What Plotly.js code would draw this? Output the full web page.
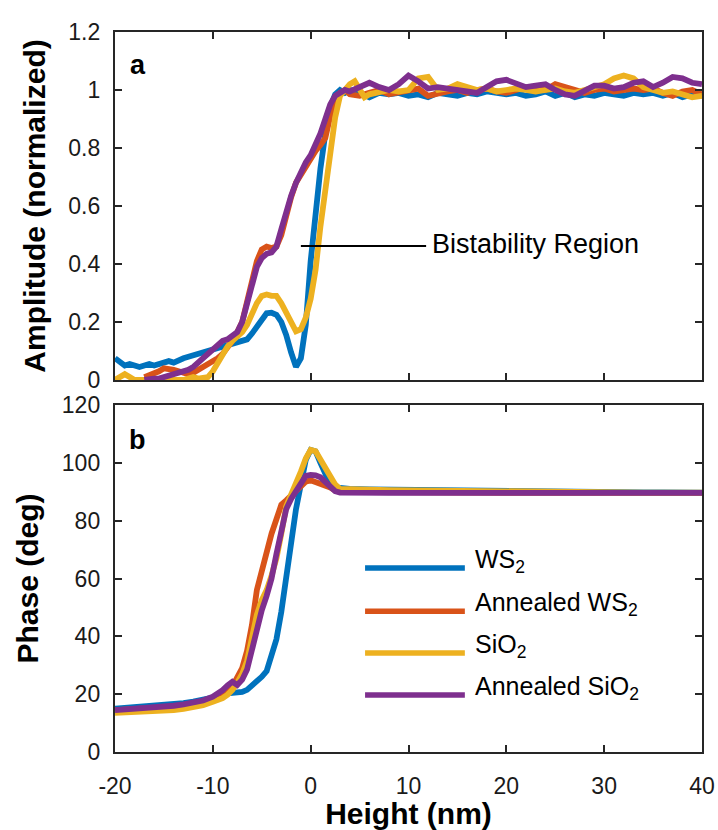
<!DOCTYPE html>
<html>
<head>
<meta charset="utf-8">
<script src="https://cdn.plot.ly/plotly-3.0.1.min.js"></script>
<style>html,body{margin:0;padding:0;background:#fff;}#chart{width:718px;height:830px;}</style>
</head>
<body>
<div id="chart"></div>
<script>
// ---------- Data ----------
const seriesNames = ["WS<sub>2</sub>", "Annealed WS<sub>2</sub>", "SiO<sub>2</sub>", "Annealed SiO<sub>2</sub>"];
const seriesColors = ["#0072BD", "#D95319", "#EDB120", "#7E2F8E"];

// Amplitude (panel a)
const ampX_ws2 = [-20,-19.5,-19,-18.5,-18,-17.5,-17,-16.5,-16,-15.5,-15,-14.5,-14,-13.5,-13,-12.5,-12,-11.5,-11,-10.5,-10,-9.5,-9,-8.5,-8,-7.5,-7,-6.5,-6,-5.5,-5,-4.5,-4,-3.5,-3,-2.5,-2,-1.5,-1,-0.5,0,0.5,1,1.5,2,2.5,3,3.5,4,5,6,7,8,9,10,11,12,13,14,15,16,17,18,19,20,21,22,23,24,25,26,27,28,29,30,31,32,33,34,35,36,37,38,39,40];
const ampY_ws2 = [0.075,0.06,0.05,0.055,0.05,0.045,0.05,0.055,0.05,0.055,0.06,0.065,0.06,0.07,0.075,0.08,0.085,0.09,0.095,0.1,0.1,0.105,0.11,0.12,0.125,0.13,0.135,0.14,0.16,0.185,0.21,0.23,0.232,0.225,0.2,0.155,0.095,0.045,0.075,0.19,0.41,0.59,0.73,0.85,0.94,0.985,1.0,0.99,1.0,0.99,0.975,0.99,0.985,0.99,0.98,0.985,0.975,0.99,0.985,0.98,0.99,0.985,0.995,0.99,0.985,0.99,0.98,0.985,0.995,0.98,0.99,0.975,0.985,0.98,0.99,0.985,0.98,0.99,0.985,0.99,0.98,0.99,0.975,0.985,0.98];

const ampX_aws2 = [-17,-16.5,-16,-15.5,-15,-14.5,-14,-13.5,-13,-12.5,-12,-11.5,-11,-10.5,-10,-9.5,-9,-8.5,-8,-7.5,-7,-6.5,-6,-5.5,-5,-4.5,-4,-3.5,-3,-2.5,-2,-1.5,-1,-0.5,0,0.5,1,1.5,2,2.5,3,3.5,4,5,6,7,8,9,10,11,12,13,14,15,16,17,18,19,20,21,22,23,24,25,26,27,28,29,30,31,32,33,34,35,36,37,38,39,40];
const ampY_aws2 = [0.01,0.015,0.02,0.03,0.04,0.04,0.035,0.03,0.025,0.02,0.025,0.035,0.04,0.05,0.065,0.075,0.09,0.11,0.135,0.165,0.2,0.27,0.34,0.41,0.45,0.46,0.455,0.46,0.5,0.57,0.63,0.68,0.71,0.74,0.765,0.79,0.81,0.835,0.91,0.975,0.99,1.0,0.985,0.98,0.99,1.0,0.985,0.99,1.0,1.005,0.98,0.99,0.995,1.0,0.99,1.0,1.005,0.995,0.99,1.0,1.01,1.005,1.0,1.02,1.01,0.995,0.99,1.0,1.005,0.995,1.0,1.005,1.0,1.005,0.99,0.98,0.995,1.0,0.985];

const ampX_sio2 = [-20,-19.5,-19,-18.5,-18,-17.5,-17,-16.5,-16,-15.5,-15,-14.5,-14,-13.5,-13,-12.5,-12,-11.5,-11,-10.5,-10,-9.5,-9,-8.5,-8,-7.5,-7,-6.5,-6,-5.5,-5,-4.5,-4,-3.5,-3,-2.5,-2,-1.5,-1,-0.5,0,0.5,1,1.5,2,2.5,3,3.5,4,4.5,5,5.5,6,7,8,9,10,11,12,13,14,15,16,17,18,19,20,21,22,23,24,25,26,27,28,29,30,31,32,33,34,35,36,37,38,39,40];
const ampY_sio2 = [0.0,0.01,0.02,0.01,0.0,0.0,0.0,0.0,0.0,0.0,0.0,0.0,0.0,0.0,0.0,0.005,0.01,0.005,0.005,0.01,0.03,0.06,0.09,0.115,0.135,0.15,0.165,0.19,0.23,0.265,0.29,0.295,0.29,0.29,0.265,0.23,0.195,0.168,0.175,0.215,0.28,0.38,0.53,0.65,0.78,0.905,0.98,1.0,1.02,1.03,1.0,0.975,0.985,0.99,1.0,0.995,1.0,1.04,1.045,1.0,1.005,1.02,1.01,1.0,1.005,0.995,1.0,1.005,1.0,0.995,1.0,1.005,0.995,0.99,1.0,1.01,1.02,1.04,1.05,1.04,1.01,1.0,0.99,0.995,0.985,0.975,0.98];

const ampX_asio2 = [-17,-16.5,-16,-15.5,-15,-14.5,-14,-13.5,-13,-12.5,-12,-11.5,-11,-10.5,-10,-9.5,-9,-8.5,-8,-7.5,-7,-6.5,-6,-5.5,-5,-4.5,-4,-3.5,-3,-2.5,-2,-1.5,-1,-0.5,0,0.5,1,1.5,2,2.5,3,3.5,4,5,6,7,8,9,10,11,12,13,14,15,16,17,18,19,20,21,22,23,24,25,26,27,28,29,30,31,32,33,34,35,36,37,38,39,40];
const ampY_asio2 = [0.0,0.005,0.005,0.005,0.01,0.012,0.015,0.02,0.03,0.035,0.045,0.06,0.07,0.085,0.1,0.12,0.135,0.14,0.15,0.165,0.2,0.26,0.32,0.39,0.42,0.435,0.44,0.46,0.52,0.58,0.635,0.68,0.72,0.75,0.775,0.81,0.85,0.9,0.95,0.98,0.99,1.0,0.995,1.01,1.025,1.01,1.0,1.02,1.05,1.03,1.005,1.01,1.005,1.0,0.995,0.99,1.01,1.03,1.035,1.02,1.01,1.015,1.02,1.0,0.985,0.98,0.995,1.015,1.015,1.005,1.01,1.025,1.03,1.01,1.025,1.045,1.04,1.025,1.02];

// Phase (panel b)
const phX = [-20,-19,-18,-17,-16,-15,-14,-13,-12,-11,-10,-9.5,-9,-8.5,-8,-7.5,-7,-6.5,-6,-5.5,-5,-4.5,-4,-3.5,-3,-2.5,-2,-1.5,-1,-0.5,0,0.5,1,1.5,2,2.5,3,4,6,8,10,12,14,16,18,20,22,24,26,28,30,32,34,36,38,40];
const phY_ws2 = [15.0,15.2,15.4,15.6,15.9,16.2,16.5,16.9,17.4,18.0,18.8,19.5,20.2,20.3,20.4,20.4,20.8,21.5,22.8,24.5,26.0,28.0,33.0,39.0,48.5,60.5,73.0,84.0,92.5,101.0,104.5,104.0,100.0,96.0,92.5,91.5,91.2,91.0,90.8,90.7,90.6,90.5,90.4,90.3,90.2,90.1,90.1,90.0,90.0,90.0,89.9,89.9,89.8,89.8,89.8,89.7];
const phY_aws2 = [14.5,14.6,14.8,15.0,15.2,15.4,15.7,16.0,16.5,17.2,18.6,19.3,20.0,21.0,22.7,25.5,29.0,35.0,44.0,56.0,63.0,70.0,75.5,80.5,85.5,87.0,88.5,90.5,92.0,93.5,94.0,93.5,93.0,92.5,91.5,90.5,90.2,90.0,89.9,89.8,89.8,89.7,89.7,89.7,89.6,89.6,89.6,89.6,89.6,89.6,89.6,89.6,89.6,89.6,89.6,89.6];
const phY_sio2 = [13.5,13.6,13.7,13.8,14.0,14.2,14.5,14.9,15.4,16.2,17.4,18.0,18.6,19.8,21.5,24.0,27.0,31.5,39.5,47.5,52.5,56.0,61.0,67.0,75.5,85.0,89.0,92.5,97.0,101.5,104.5,104.0,101.0,98.0,95.0,92.5,91.0,90.8,90.7,90.6,90.5,90.4,90.3,90.2,90.1,90.0,90.0,89.9,89.9,89.8,89.8,89.8,89.7,89.7,89.7,89.7];
const phY_asio2 = [14.5,14.7,14.9,15.1,15.4,15.7,16.0,16.5,17.0,17.8,19.1,20.0,21.4,23.0,24.3,23.2,25.0,28.5,36.0,43.0,49.0,54.0,60.0,68.5,77.0,84.0,87.5,90.5,93.5,95.5,95.8,95.7,95.0,93.5,91.5,90.2,89.7,89.6,89.6,89.6,89.6,89.6,89.6,89.6,89.6,89.6,89.6,89.6,89.6,89.6,89.6,89.6,89.6,89.6,89.6,89.6];

// Axis ranges / ticks
const xRange = [-20, 40];
const xTicks = [-20, -10, 0, 10, 20, 30, 40];
const xTickText = ["-20", "-10", "0", "10", "20", "30", "40"];
const ampRange = [0, 1.2];
const ampTicks = [0, 0.2, 0.4, 0.6, 0.8, 1, 1.2];
const ampTickText = ["0", "0.2", "0.4", "0.6", "0.8", "1", "1.2"];
const phRange = [0, 120];
const phTicks = [0, 20, 40, 60, 80, 100, 120];
const phTickText = ["0", "20", "40", "60", "80", "100", "120"];

// ---------- Build ----------
const LW = 5.8;
const ampXs = [ampX_ws2, ampX_aws2, ampX_sio2, ampX_asio2];
const ampYs = [ampY_ws2, ampY_aws2, ampY_sio2, ampY_asio2];
const phYs = [phY_ws2, phY_aws2, phY_sio2, phY_asio2];

const traces = [];
for (let i = 0; i < 4; i++) {
  traces.push({x: ampXs[i], y: ampYs[i], type: 'scatter', mode: 'lines', name: seriesNames[i],
    line: {color: seriesColors[i], width: LW}, xaxis: 'x', yaxis: 'y', showlegend: false, hoverinfo: 'skip'});
}
for (let i = 0; i < 4; i++) {
  traces.push({x: phX, y: phYs[i], type: 'scatter', mode: 'lines', name: seriesNames[i],
    line: {color: seriesColors[i], width: LW}, xaxis: 'x2', yaxis: 'y2', showlegend: false, hoverinfo: 'skip'});
}

const FONT = 'Liberation Sans, Arial, Helvetica, sans-serif';
const TITLEFONT = {family: FONT, size: 30, color: '#000', weight: 'bold'};
const TICKFONT = {family: FONT, size: 23, color: '#1a1a1a'};

function axisCommon() {
  return {showline: true, linecolor: '#262626', linewidth: 2.2, mirror: 'ticks', ticks: 'inside',
    ticklen: 7, tickwidth: 2, tickcolor: '#262626', showgrid: false, zeroline: false, tickfont: TICKFONT,
    tickmode: 'array'};
}

const xa = Object.assign(axisCommon(), {range: xRange, tickvals: xTicks, ticktext: xTickText, anchor: 'y', showticklabels: false, domain: [0, 1]});
const xa2 = Object.assign(axisCommon(), {range: xRange, tickvals: xTicks, ticktext: xTickText, anchor: 'y2', domain: [0, 1],
  ticklabelstandoff: 12, title: {text: 'Height (nm)', font: TITLEFONT, standoff: 0}});
const ya = Object.assign(axisCommon(), {range: ampRange, tickvals: ampTicks, ticktext: ampTickText, anchor: 'x', domain: [0.5167, 1],
  ticklabelstandoff: 8, title: {text: 'Amplitude (normalized)', font: TITLEFONT, standoff: 14}});
const ya2 = Object.assign(axisCommon(), {range: phRange, tickvals: phTicks, ticktext: phTickText, anchor: 'x2', domain: [0, 0.4819],
  ticklabelstandoff: 8, title: {text: 'Phase (deg)', font: TITLEFONT, standoff: 14}});

// Legend drawn as samples in panel b
const legendRows = [0.530, 0.406, 0.285, 0.164];
const shapes = [];
const annotations = [];
for (let i = 0; i < 4; i++) {
  shapes.push({type: 'line', xref: 'x2 domain', yref: 'y2 domain', x0: 0.426, x1: 0.596,
    y0: legendRows[i], y1: legendRows[i], line: {color: seriesColors[i], width: 5.5}});
  annotations.push({xref: 'x2 domain', yref: 'y2 domain', x: 0.61, y: legendRows[i] + 0.02,
    xanchor: 'left', yanchor: 'middle', showarrow: false, text: seriesNames[i],
    font: {family: FONT, size: 25, color: '#000'}});
}
// Bistability annotation
shapes.push({type: 'line', xref: 'x', yref: 'y', x0: -1.0, x1: 11.8, y0: 0.462, y1: 0.462,
  line: {color: '#000', width: 2}});
annotations.push({xref: 'x', yref: 'y', x: 12.2, y: 0.47, xanchor: 'left', yanchor: 'middle',
  showarrow: false, text: 'Bistability Region', font: {family: FONT, size: 27, color: '#000'}});
// Panel labels
annotations.push({xref: 'x domain', yref: 'y domain', x: 0.039, y: 0.905, xanchor: 'center', yanchor: 'middle',
  showarrow: false, text: '<b>a</b>', font: {family: FONT, size: 27, color: '#000'}});
annotations.push({xref: 'x2 domain', yref: 'y2 domain', x: 0.039, y: 0.899, xanchor: 'center', yanchor: 'middle',
  showarrow: false, text: '<b>b</b>', font: {family: FONT, size: 27, color: '#000'}});

const layout = {
  width: 718, height: 830,
  margin: {l: 115, r: 16, t: 32, b: 78, pad: 0},
  paper_bgcolor: '#fff', plot_bgcolor: '#fff',
  showlegend: false,
  xaxis: xa, yaxis: ya, xaxis2: xa2, yaxis2: ya2,
  shapes: shapes, annotations: annotations,
  font: {family: FONT}
};

Plotly.newPlot('chart', traces, layout, {staticPlot: true, displayModeBar: false});
</script>
</body>
</html>
